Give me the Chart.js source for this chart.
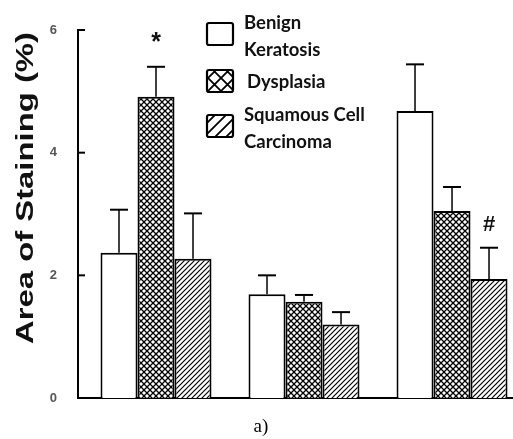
<!DOCTYPE html>
<html>
<head>
<meta charset="utf-8">
<script src="https://cdn.jsdelivr.net/npm/chart.js@4"></script>
<style>
  html, body { margin: 0; padding: 0; background: #fff; overflow: hidden; }
</style>
</head>
<body>
<canvas id="chart" width="513" height="439"></canvas>
<script>
// group positions on the x axis (no category labels in the figure)
const groupX = [1, 2, 3];
const seriesNames = ['Benign Keratosis', 'Dysplasia', 'Squamous Cell Carcinoma'];
const legendLines = [['Benign', 'Keratosis'], ['Dysplasia'], ['Squamous Cell', 'Carcinoma']];

const benign = [2.37, 1.69, 4.68];
const benignErr = [0.70, 0.31, 0.76];
const dysplasia = [4.91, 1.57, 3.05];
const dysplasiaErr = [0.49, 0.11, 0.39];
const carcinoma = [2.27, 1.20, 1.94];
const carcinomaErr = [0.74, 0.20, 0.51];

const yTicks = [0, 2, 4, 6];
// [dataset, group, symbol]
const marks = [[1, 0, '*'], [2, 2, '#']];

function makePattern(kind, size, lw) {
  const c = document.createElement('canvas');
  c.width = size; c.height = size;
  const g = c.getContext('2d');
  g.fillStyle = '#fff';
  g.fillRect(0, 0, size, size);
  g.strokeStyle = '#000';
  g.lineWidth = lw;
  g.beginPath();
  if (kind === 'cross') {
    g.moveTo(0, 0); g.lineTo(size, size);
    g.moveTo(size, 0); g.lineTo(0, size);
  } else if (kind === 'diag') {
    g.moveTo(-1, size + 1); g.lineTo(size + 1, -1);
    g.moveTo(-1, 1); g.lineTo(1, -1);
    g.moveTo(size - 1, size + 1); g.lineTo(size + 1, size - 1);
  }
  g.stroke();
  return g.createPattern(c, 'repeat');
}

const ctx = document.getElementById('chart').getContext('2d');
const fills = ['#ffffff', makePattern('cross', 6, 1.3), makePattern('diag', 5, 1.2)];
const legendFills = ['#ffffff', makePattern('cross', 13, 1.8), makePattern('diag', 11, 1.8)];
const values = [benign, dysplasia, carcinoma];
const errors = [benignErr, dysplasiaErr, carcinomaErr];

const extras = {
  id: 'extras',
  afterDatasetsDraw(chart) {
    const c = chart.ctx;
    const ys = chart.scales.y;
    c.save();
    c.strokeStyle = '#000';
    values.forEach((vals, d) => {
      const meta = chart.getDatasetMeta(d);
      vals.forEach((v, i) => {
        const bar = meta.data[i];
        const top = ys.getPixelForValue(v + errors[d][i]);
        c.lineWidth = 1.5;
        c.beginPath();
        c.moveTo(bar.x, bar.y);
        c.lineTo(bar.x, top);
        c.stroke();
        c.lineWidth = 2;
        c.beginPath();
        c.moveTo(bar.x - 9, top);
        c.lineTo(bar.x + 9, top);
        c.stroke();
      });
    });

    // significance marks
    c.fillStyle = '#111';
    c.textAlign = 'center';
    c.textBaseline = 'middle';
    marks.forEach(([d, i, s]) => {
      const bar = chart.getDatasetMeta(d).data[i];
      const top = ys.getPixelForValue(values[d][i] + errors[d][i]);
      if (s === '*') {
        c.font = 'bold 25px "Liberation Sans"';
        c.fillText(s, bar.x, top - 24);
      } else {
        c.font = 'bold 22px "Liberation Sans"';
        c.fillText(s, bar.x, top - 23);
      }
    });

    // inward y ticks
    const left = chart.chartArea.left;
    c.lineWidth = 2;
    yTicks.slice(1).forEach(v => {
      const y = ys.getPixelForValue(v);
      c.beginPath();
      c.moveTo(left - 1, y);
      c.lineTo(left + 7, y);
      c.stroke();
    });
    c.restore();
  },
  afterDraw(chart) {
    const c = chart.ctx;
    c.save();
    // legend
    const boxY = [23, 70, 115];
    const textX = [244, 247, 244];
    legendLines.forEach((lines, d) => {
      c.fillStyle = legendFills[d];
      c.strokeStyle = '#000';
      c.lineWidth = 2.2;
      c.beginPath();
      c.roundRect(207, boxY[d], 26, 22, 2);
      c.fill();
      c.stroke();
      c.fillStyle = '#111';
      c.font = 'bold 18.5px Lato';
      c.textAlign = 'left';
      c.textBaseline = 'middle';
      const y0 = d === 1 ? 82 : boxY[d];
      lines.forEach((t, k) => c.fillText(t, textX[d], y0 + k * 27));
    });

    // y axis title, stretched like the original figure
    c.translate(27, 188);
    c.rotate(-Math.PI / 2);
    c.font = 'bold 23px "Liberation Sans"';
    const w = c.measureText('Area of Staining (%)').width;
    c.scale(312 / w, 1);
    c.fillStyle = '#111';
    c.textAlign = 'center';
    c.textBaseline = 'middle';
    c.fillText('Area of Staining (%)', 0, 0);
    c.restore();

    c.save();
    c.font = '19px "Liberation Serif"';
    c.fillStyle = '#000';
    c.textAlign = 'center';
    c.textBaseline = 'middle';
    c.fillText('a)', 261, 427);
    c.restore();
  }
};

new Chart(ctx, {
  type: 'bar',
  data: {
    datasets: seriesNames.map((name, d) => ({
      label: name,
      data: groupX.map((x, i) => ({ x, y: values[d][i] })),
      backgroundColor: fills[d],
      borderColor: '#000',
      borderWidth: 2,
      barPercentage: 1,
      categoryPercentage: 0.75
    }))
  },
  options: {
    responsive: false,
    animation: false,
    layout: { padding: { top: 30, bottom: 41, left: 0, right: 0 } },
    plugins: { legend: { display: false }, tooltip: { enabled: false } },
    scales: {
      x: {
        type: 'linear',
        min: 0.473,
        max: 3.412,
        offset: false,
        afterBuildTicks: s => { s.ticks = groupX.map(v => ({ value: v })); },
        afterFit: s => { s.height = 0; },
        grid: { display: false },
        ticks: { display: false },
        border: { color: '#000', width: 2 }
      },
      y: {
        min: 0,
        max: 6,
        afterBuildTicks: s => { s.ticks = yTicks.map(v => ({ value: v })); },
        afterFit: s => { s.width = 78; },
        grid: { display: false },
        border: { color: '#000', width: 2 },
        ticks: {
          padding: 13,
          color: '#555',
          font: { family: 'Liberation Sans', size: 13, weight: 'bold' }
        }
      }
    }
  },
  plugins: [extras]
});
</script>
</body>
</html>
